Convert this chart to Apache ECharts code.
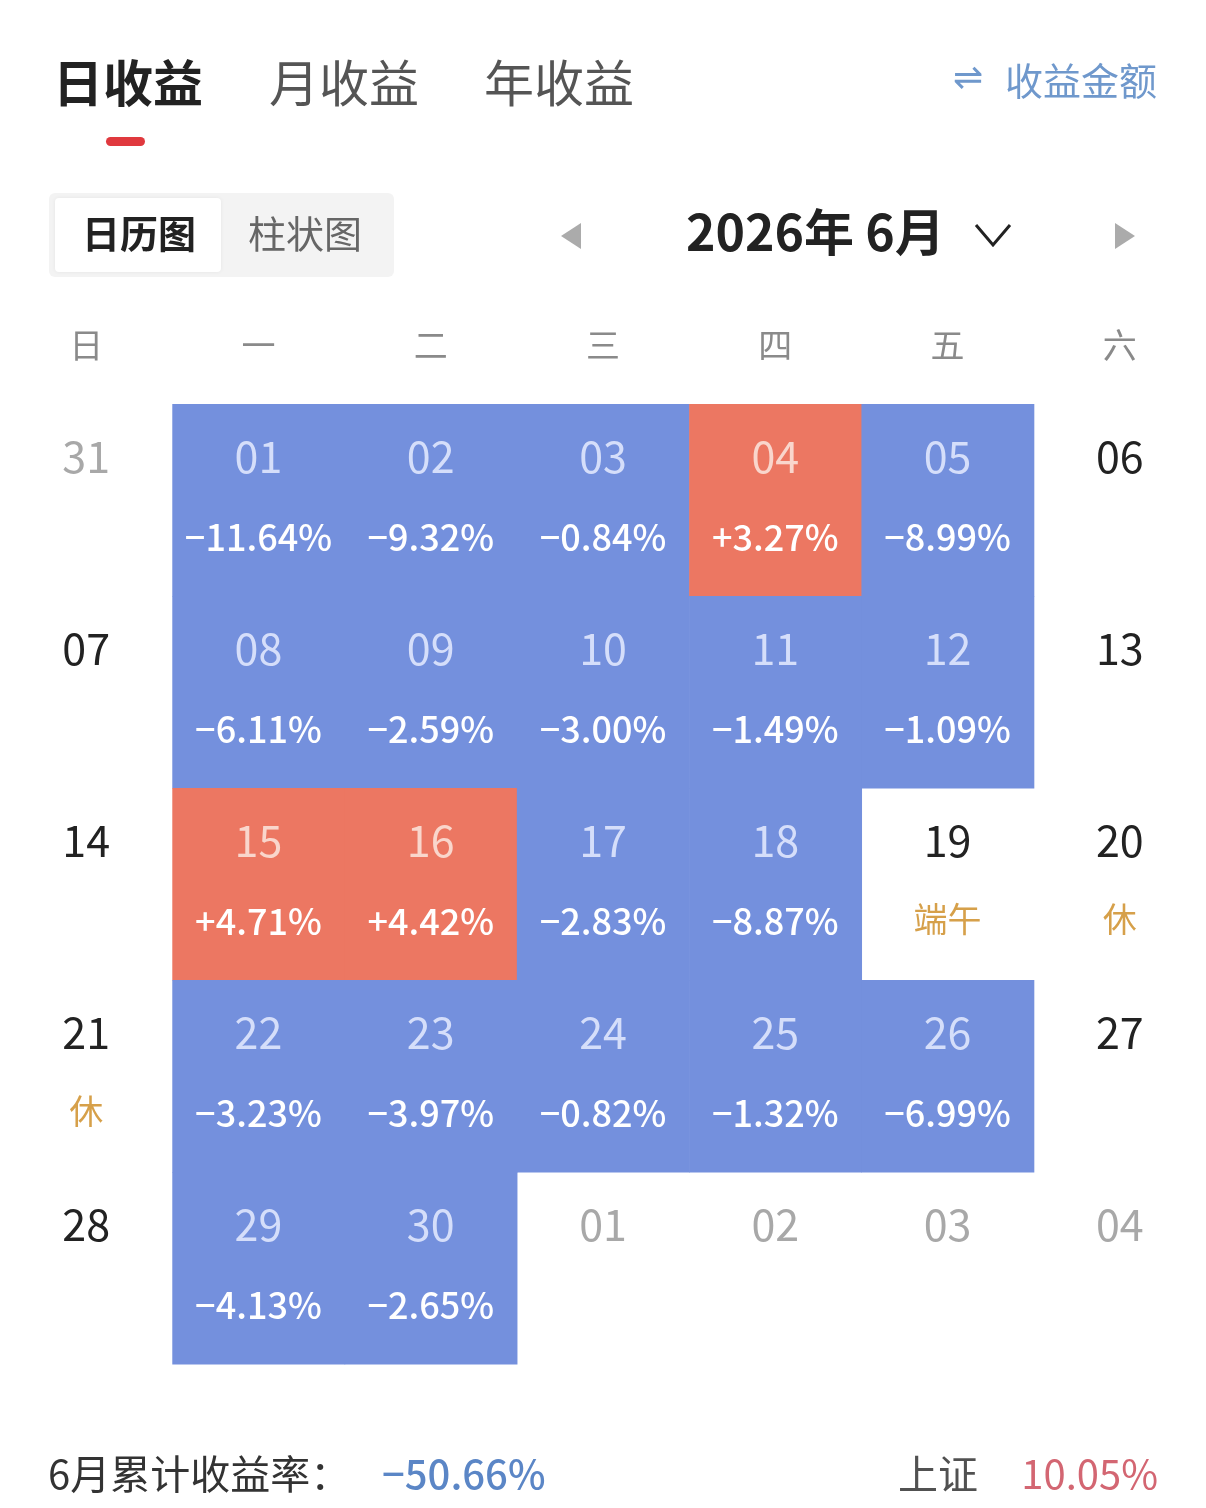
<!DOCTYPE html>
<html>
<head>
<meta charset="utf-8">
<script src="https://cdn.jsdelivr.net/npm/echarts@6/dist/echarts.min.js"></script>
<style>
html,body{margin:0;padding:0;background:#fff;}
#chart{width:1206px;height:1508px;}
</style>
</head>
<body>
<div id="chart"></div>
<script>
// ---- data ----
const weekdays = ['日','一','二','三','四','五','六'];
const weeks = ['w1','w2','w3','w4','w5'];
const dates = ['31','01','02','03','04','05','06',
               '07','08','09','10','11','12','13',
               '14','15','16','17','18','19','20',
               '21','22','23','24','25','26','27',
               '28','29','30','01','02','03','04'];
const returns = [null,-11.64,-9.32,-0.84,3.27,-8.99,null,
                 null,-6.11,-2.59,-3.00,-1.49,-1.09,null,
                 null,4.71,4.42,-2.83,-8.87,null,null,
                 null,-3.23,-3.97,-0.82,-1.32,-6.99,null,
                 null,-4.13,-2.65,null,null,null,null];
const notes = ['','','','','','','',
               '','','','','','','',
               '','','','','','端午','休',
               '休','','','','','','',
               '','','','','','',''];
const otherMonth = [true,false,false,false,false,false,false,
                    false,false,false,false,false,false,false,
                    false,false,false,false,false,false,false,
                    false,false,false,false,false,false,false,
                    false,false,false,true,true,true,true];
const monthTotal = '-50.66%';
const indexName = '上证';
const indexValue = '10.05%';

const FONT = '"Noto Sans CJK SC", "Noto Sans", sans-serif';
const BLUE = '#7490dd';
const RED = '#ec7762';

const cellData = dates.map((d, i) => [i % 7, weeks[Math.floor(i / 7)], returns[i]]);

function fmt(v) {
  return (v > 0 ? '+' : '\u2212') + Math.abs(v).toFixed(2) + '%';
}

function renderItem(params, api) {
  const i = params.dataIndex;
  const c = api.coord([api.value(0), api.value(1)]);
  const s = api.size([1, 1]);
  const v = returns[i];
  const children = [];
  const x0 = c[0] - s[0] / 2, y0 = c[1] - s[1] / 2;
  if (v !== null) {
    children.push({
      type: 'rect',
      shape: { x: x0, y: y0, width: s[0] + 0.6, height: s[1] + 0.6 },
      style: { fill: v > 0 ? RED : BLUE }
    });
  }
  let dayColor = '#222';
  if (otherMonth[i]) dayColor = '#a8a8a8';
  if (v !== null) dayColor = v > 0 ? '#f9d6cc' : '#d5defa';
  children.push({
    type: 'text',
    style: {
      x: c[0], y: y0 + 53, text: dates[i], align: 'center', verticalAlign: 'middle',
      font: '400 43px ' + FONT, fill: dayColor
    }
  });
  if (v !== null) {
    children.push({
      type: 'text',
      style: {
        x: c[0], y: y0 + 133, text: fmt(v), align: 'center', verticalAlign: 'middle',
        font: '500 36px ' + FONT, fill: '#ffffff'
      }
    });
  } else if (notes[i]) {
    children.push({
      type: 'text',
      style: {
        x: c[0], y: y0 + 131, text: notes[i], align: 'center', verticalAlign: 'middle',
        font: '400 34px ' + FONT, fill: '#d6a04a'
      }
    });
  }
  return { type: 'group', children: children };
}

const chart = echarts.init(document.getElementById('chart'), null, { renderer: 'canvas' });
chart.setOption({
  backgroundColor: '#ffffff',
  animation: false,
  grid: { left: 0, right: 0, top: 404, height: 960 },
  xAxis: {
    type: 'category', data: weekdays, position: 'top',
    axisLine: { show: false }, axisTick: { show: false }, splitLine: { show: false },
    axisLabel: { margin: 59, verticalAlign: 'middle', fontSize: 34, color: '#8a8a8a', fontFamily: FONT }
  },
  yAxis: {
    type: 'category', data: weeks, inverse: true, show: false
  },
  series: [{
    type: 'custom',
    renderItem: renderItem,
    data: cellData,
    encode: { x: 0, y: 1 }
  }],
  graphic: [
    // top tabs
    { type: 'text', left: 53, top: 58, style: { text: '日收益', font: 'bold 50px ' + FONT, fill: '#222' } },
    { type: 'text', left: 269, top: 58, style: { text: '月收益', font: '400 50px ' + FONT, fill: '#555' } },
    { type: 'text', left: 484, top: 58, style: { text: '年收益', font: '400 50px ' + FONT, fill: '#555' } },
    { type: 'rect', shape: { x: 106, y: 137, width: 39, height: 9, r: 4.5 }, style: { fill: '#e0393e' } },
    { type: 'text', left: 953, top: 62, style: { text: '\u21CC', font: '400 36px "DejaVu Sans", sans-serif', fill: '#6f98cc' } },
    { type: 'text', left: 1005, top: 62, style: { text: '收益金额', font: '400 38px ' + FONT, fill: '#6f98cc' } },
    // toggle
    { type: 'rect', shape: { x: 49, y: 193, width: 345, height: 84, r: 6 }, style: { fill: '#f3f3f3' } },
    { type: 'rect', shape: { x: 55, y: 198, width: 166, height: 74, r: 4 }, style: { fill: '#ffffff', shadowBlur: 4, shadowColor: 'rgba(0,0,0,0.06)' } },
    { type: 'text', left: 82, top: 215, style: { text: '日历图', font: 'bold 38px ' + FONT, fill: '#222' } },
    { type: 'text', left: 248, top: 215, style: { text: '柱状图', font: '400 38px ' + FONT, fill: '#666' } },
    // month navigation
    { type: 'polygon', shape: { points: [[581, 223], [581, 249], [561, 236]] }, style: { fill: '#ababab' } },
    { type: 'text', left: 686, top: 207, style: { text: '2026年 6月', font: 'bold 50px ' + FONT, fill: '#222' } },
    { type: 'polyline', shape: { points: [[976, 225], [993, 245], [1010, 225]] }, style: { stroke: '#222', lineWidth: 3, fill: null } },
    { type: 'polygon', shape: { points: [[1115, 223], [1115, 249], [1135, 236]] }, style: { fill: '#ababab' } },
    // bottom summary
    { type: 'text', left: 48, top: 1454, style: { text: '6月累计收益率：', font: '400 40px ' + FONT, fill: '#333' } },
    { type: 'text', left: 382, top: 1454, style: { text: monthTotal.replace('-', '\u2212'), font: '500 40px ' + FONT, fill: '#5b86c6' } },
    { type: 'text', left: 898, top: 1454, style: { text: indexName, font: '400 40px ' + FONT, fill: '#333', opacity: 0.85 } },
    { type: 'text', right: 48, top: 1454, style: { text: indexValue, font: '400 40px ' + FONT, fill: '#c8404f', opacity: 0.8 } }
  ]
});
</script>
</body>
</html>
